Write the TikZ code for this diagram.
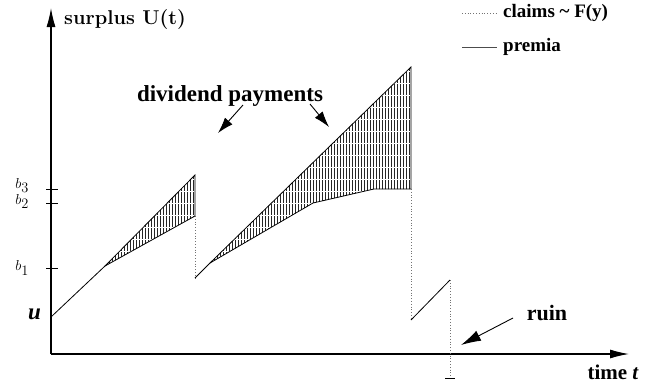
\documentclass[tikz,border=0pt]{standalone}
\usepackage{fontspec}
\newfontfamily\tnr{Liberation Serif}
\usetikzlibrary{arrows.meta}
\begin{document}
\begin{tikzpicture}[x=1pt,y=-1pt,
  axis/.style={line width=1.2pt},
  prem/.style={line width=0.8pt},
  claim/.style={black!55, dotted, line width=0.8pt},
  hatch/.style={line width=0.6pt, black!85, dash pattern=on 10.5pt off 1.5pt},
  bigtxt/.style={font=\tnr\bfseries\fontsize{23}{26}\selectfont, inner sep=0pt},
  legtxt/.style={font=\tnr\bfseries\fontsize{19}{22}\selectfont, inner sep=0pt, anchor=west},
  blab/.style={font=\fontsize{14}{15}\selectfont, inner sep=0pt, anchor=east},
  ptr/.style={line width=0.9pt, -{Latex[length=16pt,width=10pt]}},
  axtip/.style={-{Latex[length=19pt,width=9pt]}}
]
\useasboundingbox (0,0) rectangle (649,383);
% axes
\coordinate (o) at (51,354);
\coordinate (ytop) at (51,8);
\coordinate (xend) at (629,354);
\draw[axis,axtip] (o) -- (ytop);
\draw[axis,axtip] (o) -- (xend);
% ticks
\draw[line width=0.8pt] (46,189) -- (58,189);
\draw[line width=0.8pt] (46,203) -- (58,203);
\draw[line width=0.8pt] (46,268) -- (58,268);
\node[blab] (b3) at (29,185.5) {$b_{\textstyle 3}$};
\node[blab] (b2) at (29,201.5) {$b_{\textstyle 2}$};
\node[blab] (b1) at (29,268) {$b_{\textstyle 1}$};
\node[font=\tnr\bfseries\itshape\fontsize{23}{26}\selectfont, inner sep=0pt, anchor=east] (u) at (41,314) {u};
% path coordinates
\coordinate (p0) at (51,317);
\coordinate (p1) at (105,266);
\coordinate (p2) at (195,216);
\coordinate (d1) at (195,175);
\coordinate (p3) at (195,278);
\coordinate (p4) at (210,263);
\coordinate (p5) at (313,203);
\coordinate (p6) at (374,189);
\coordinate (p7) at (411,189);
\coordinate (d2) at (411,67);
\coordinate (p8) at (411,320);
\coordinate (p9) at (450,280);
\coordinate (p10) at (450,378);
% hatching
\begin{scope}
  \clip (p1) -- (d1) -- (p2) -- cycle;
  \foreach \x in {106,109,...,195} \draw[hatch] (\x,0) -- (\x,383);
\end{scope}
\begin{scope}
  \clip (p4) -- (d2) -- (p7) -- (p6) -- (p5) -- cycle;
  \foreach \x in {211,214,...,411} \draw[hatch] (\x,0) -- (\x,383);
\end{scope}
% premium / surplus path
\draw[prem] (p0) -- (p1) -- (p2);
\draw[prem] (p1) -- (d1) -- (p2);
\draw[claim] (p2) -- (p3);
\draw[prem] (p3) -- (p4) -- (p5) -- (p6) -- (p7);
\draw[prem] (p4) -- (d2) -- (p7);
\draw[claim] (p7) -- (p8);
\draw[prem] (p8) -- (p9);
\draw[claim] (p9) -- (p10);
\draw[line width=0.8pt] (445,378) -- (455,378);
% labels
\node[font=\bfseries\fontsize{20}{22}\selectfont, inner sep=0pt, anchor=west] (ylab) at (64,20) {surplus U(t)};
\node[bigtxt] (div) at (230,96) {dividend payments};
\coordinate (a1s) at (243,105);
\coordinate (a1e) at (218,133);
\coordinate (a2s) at (310,104);
\coordinate (a2e) at (329,127);
\draw[ptr] (a1s) -- (a1e);
\draw[ptr] (a2s) -- (a2e);
\node[bigtxt, font=\tnr\bfseries\fontsize{22}{24}\selectfont] (ruin) at (547,313) {ruin};
\coordinate (r1s) at (513,318);
\coordinate (r1e) at (461,345);
\draw[ptr, -{Latex[length=20pt,width=11pt]}] (r1s) -- (r1e);
\node[bigtxt, font=\tnr\bfseries\fontsize{21}{24}\selectfont, anchor=east] (time) at (639,372) {time \textit{t}};
% legend
\coordinate (l1a) at (462,13);
\coordinate (l1b) at (497,13);
\coordinate (l2a) at (462,47);
\coordinate (l2b) at (497,47);
\draw[claim] (l1a) -- (l1b);
\draw[prem, black!70] (l2a) -- (l2b);
\node[legtxt] (cl) at (503,13) {claims \textasciitilde\ F(y)};
\node[legtxt] (pr) at (503,47) {premia};
\end{tikzpicture}
\end{document}
